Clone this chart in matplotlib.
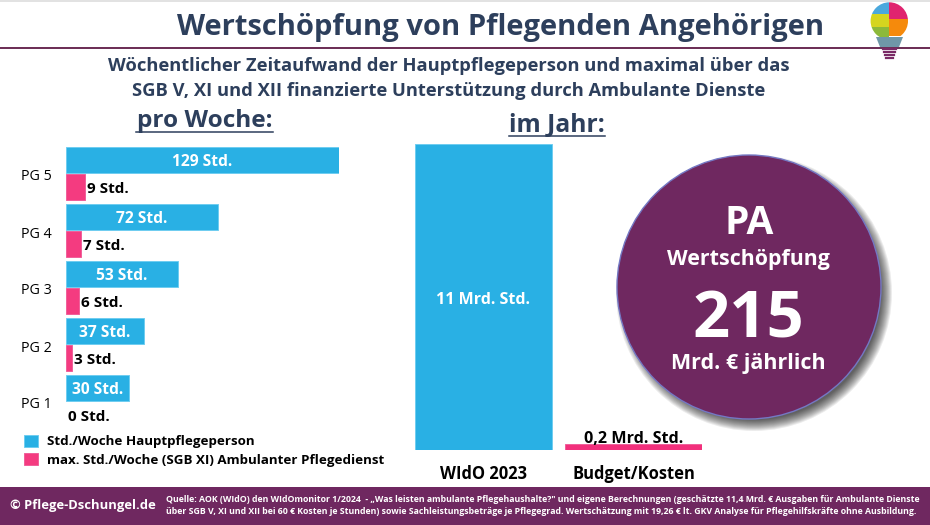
import matplotlib
matplotlib.use("Agg")
import matplotlib.pyplot as plt
from matplotlib.patches import Circle, Polygon, Rectangle

plt.rcParams["font.family"] = ["Open Sans", "DejaVu Sans"]

# data
groups = ["PG 5", "PG 4", "PG 3", "PG 2", "PG 1"]
carer_hours = [129, 72, 53, 37, 30]
service_hours = [9, 7, 6, 3, 0]
year_labels = ["WIdO 2023", "Budget/Kosten"]
year_hours = [11, 0.2]
year_texts = ["11 Mrd. Std.", "0,2 Mrd. Std."]

BLUE = "#29b0e4"
BLUE_EDGE = "#6fcdf0"
PINK = "#f43b80"
PINK_EDGE = "#f0609a"
PURPLE = "#6f2860"
NAVY = "#2d3f5c"
W, H = 930, 525

fig = plt.figure(figsize=(W / 100, H / 100), dpi=100, facecolor="white")


def px_axes(x0, y0, x1, y1, **kw):
    # axes placed by pixel box, y counted from the top
    return fig.add_axes([x0 / W, 1 - y1 / H, (x1 - x0) / W, (y1 - y0) / H], **kw)


# overlay in pixel coordinates for banner, headings and circle
bg = px_axes(0, 0, W, H, zorder=0)
bg.set_xlim(0, W)
bg.set_ylim(H, 0)
bg.axis("off")

bg.add_patch(Rectangle((0, 0), W, 1.5, color="#e2e2e2", lw=0))
bg.plot([0, W], [47.5, 47.5], color="#5e1a45", lw=1.3)
bg.add_patch(Rectangle((0, 487), W, 38, color=PURPLE, lw=0))

bg.text(500.5, 27, "Wertschöpfung von Pflegenden Angehörigen", ha="center", va="center",
        fontsize=21, fontweight="bold", color=NAVY)
bg.text(449, 66, "Wöchentlicher Zeitaufwand der Hauptpflegeperson und maximal über das",
        ha="center", va="center", fontsize=13.25, fontweight="bold", color=NAVY)
bg.text(449, 91, "SGB V, XI und XII finanzierte Unterstützung durch Ambulante Dienste",
        ha="center", va="center", fontsize=13.25, fontweight="bold", color=NAVY)

bg.text(204.5, 121, "pro Woche:", ha="center", va="center", fontsize=17.6, fontweight="bold", color=NAVY)
bg.plot([136, 273], [131.5, 131.5], color=NAVY, lw=1.1)
bg.text(557, 125, "im Jahr:", ha="center", va="center", fontsize=17.7, fontweight="bold", color=NAVY)
bg.plot([509, 605], [135.5, 135.5], color=NAVY, lw=1.1)

# footer
bg.text(10, 505.5, "© Pflege-Dschungel.de", ha="left", va="center", fontsize=9.35,
        fontweight="bold", color="white")
bg.text(166, 499,
        "Quelle: AOK (WIdO) den WIdOmonitor 1/2024  - „Was leisten ambulante Pflegehaushalte?\" und eigene "
        "Berechnungen (geschätzte 11,4 Mrd. € Ausgaben für Ambulante Dienste",
        ha="left", va="center", fontsize=6.27, fontweight="bold", color="white")
bg.text(166, 511,
        "über SGB V, XI und XII bei 60 € Kosten je Stunden) sowie Sachleistungsbeträge je Pflegegrad. "
        "Wertschätzung mit 19,26 € lt. GKV Analyse für Pflegehilfskräfte ohne Ausbildung.",
        ha="left", va="center", fontsize=6.27, fontweight="bold", color="white")

# circle with soft shadow
cx, cy, r = 749, 287, 132
for i in range(12):
    bg.add_patch(Circle((cx + 5, cy + 6), r + 6 - i, color="black", alpha=0.075, lw=0))
bg.add_patch(Circle((cx, cy), r, facecolor=PURPLE, edgecolor="#7478c4", lw=1))
bg.text(749, 224, "PA", ha="center", va="center", fontsize=28, fontweight="bold", color="white")
bg.text(748.5, 259, "Wertschöpfung", ha="center", va="center", fontsize=15.4, fontweight="bold", color="white")
bg.text(748.5, 321, "215", ha="center", va="center", fontsize=47, fontweight="bold", color="white")
bg.text(748.5, 364, "Mrd. € jährlich", ha="center", va="center", fontsize=15.5, fontweight="bold", color="white")

# light bulb logo
clip = Circle((889.3, 21), 18.7, transform=bg.transData)
for color, x, y, w, h in [("#4aa8dd", 870, 2, 19.3, 12), ("#e0246f", 889.3, 2, 20, 17),
                          ("#d5d51f", 870, 14, 19.3, 13), ("#f58a0c", 889.3, 19, 20, 17),
                          ("#8cb93a", 870, 27, 19.3, 10)]:
    bg.add_patch(Rectangle((x, y), w, h, color=color, lw=0, clip_path=clip))
bg.add_patch(Polygon([(876, 37), (903, 37), (899, 47), (880, 47)], color="#6f97a8", lw=0))
for y in [49, 52, 55, 58]:
    bg.plot([883 + (y - 49) * 0.3, 896 - (y - 49) * 0.3], [y, y], color="#7a2a66", lw=1.6)

# left chart: hours per week
ax = px_axes(66, 146.5, 339, 146.5 + 5 * 57, facecolor="none", zorder=2)
pos = range(len(groups))
bar_h = 26.5 / 57
carer = ax.barh([p + bar_h / 2 for p in pos], carer_hours, height=bar_h, color=BLUE,
                edgecolor=BLUE_EDGE, lw=0.7, label="Std./Woche Hauptpflegeperson")
service = ax.barh([p + bar_h * 1.5 + 0.01 for p in pos], service_hours, height=bar_h, color=PINK,
                  edgecolor=PINK_EDGE, lw=0.7, label="max. Std./Woche (SGB XI) Ambulanter Pflegedienst")
service[-1].set_visible(False)  # zero bar would leave a hairline
for p, c, s in zip(pos, carer_hours, service_hours):
    ax.text(c / 2, p + bar_h / 2 + 0.045, f"{c} Std.", ha="center", va="center", fontsize=11.2,
            fontweight="bold", color="white")
    ax.annotate(f"{s} Std.", (s, p + bar_h * 1.5 + 0.055), xytext=(1.5, 0), textcoords="offset points",
                ha="left", va="center", fontsize=11.0, fontweight="bold", color="black")
ax.set_xlim(0, 129)
ax.set_ylim(5, 0)
ax.set_xticks([])
ax.set_yticks([p + 0.5 for p in pos], groups, fontsize=10.3)
ax.tick_params(axis="y", length=0, pad=10)
for s in ax.spines.values():
    s.set_visible(False)

fig.legend(handles=[carer, service], loc="upper left", bbox_to_anchor=(20 / W, 1 - 430.5 / H), frameon=False,
           prop={"weight": "bold", "size": 9.65}, handlelength=1.05, handleheight=1.05,
           handletextpad=0.65, labelspacing=0.33, borderpad=0.3, borderaxespad=0)

# right chart: hours per year
ax2 = px_axes(415, 144, 702, 449.5, facecolor="none", zorder=1)
bars = ax2.bar([0, 1], year_hours, width=137 / 151, color=[BLUE, "#f2307c"],
               edgecolor=[BLUE_EDGE, PINK_EDGE], lw=0.7)
ax2.set_xlim(-0.5 * 137 / 151, 1 + 0.5 * 137 / 151)
ax2.set_ylim(0, 11)
ax2.set_yticks([])
ax2.set_xticks([0, 1], year_labels, fontsize=11.9, fontweight="bold")
ax2.tick_params(axis="x", length=0, pad=11)
ax2.text(0, 5.4, year_texts[0], ha="center", va="center", fontsize=11.5, fontweight="bold", color="white")
ax2.annotate(year_texts[1], (1, 0.2), xytext=(0, -2), textcoords="offset points", ha="center", va="bottom",
             fontsize=11.6, fontweight="bold", color="black")
for s in ax2.spines.values():
    s.set_visible(False)

fig.savefig("out.png", dpi=100)
